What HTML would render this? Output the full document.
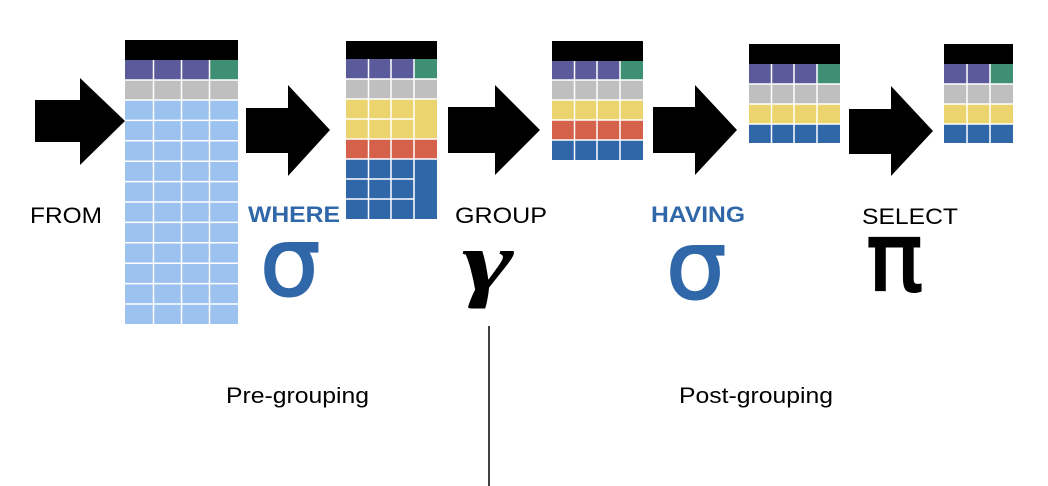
<!DOCTYPE html>
<html><head><meta charset="utf-8"><style>
html,body{margin:0;padding:0;background:#fff;width:1048px;height:486px;overflow:hidden}
svg{display:block}
text{font-family:"Liberation Sans",sans-serif}
.g{font-family:"DejaVu Sans",sans-serif}
</style></head><body>
<svg width="1048" height="486" viewBox="0 0 1048 486" xmlns="http://www.w3.org/2000/svg">
<g fill="#000">
<polygon points="35,100 80,100 80,78 125,121 80,165 80,142 35,142"/>
<polygon points="246,108 288,108 288,85 330,130 288,176 288,153 246,153"/>
<polygon points="448,107 495,107 495,85 540,130 495,175 495,153 448,153"/>
<polygon points="653,107 695,107 695,85 737,130 695,175 695,153 653,153"/>
<polygon points="849,109 891,109 891,86 933,131 891,176 891,154 849,154"/>
</g>

<rect x="125" y="40" width="113" height="20" fill="#000"/>
<rect x="125" y="60" width="85" height="20" fill="#5b5b9b"/>
<rect x="210" y="60" width="28" height="20" fill="#3f8f74"/>
<rect x="125" y="80" width="113" height="20" fill="#bfbfbf"/>
<rect x="125" y="100" width="113" height="224" fill="#9cc3f0"/>
<g stroke="#fff" stroke-width="1.5">
<line x1="153.5" y1="60" x2="153.5" y2="324"/><line x1="181.5" y1="60" x2="181.5" y2="324"/><line x1="209.5" y1="60" x2="209.5" y2="324"/>
<line x1="125" y1="80" x2="238" y2="80"/><line x1="125" y1="100" x2="238" y2="100"/>
<line x1="125" y1="120.4" x2="238" y2="120.4"/><line x1="125" y1="140.8" x2="238" y2="140.8"/>
<line x1="125" y1="161.2" x2="238" y2="161.2"/><line x1="125" y1="181.6" x2="238" y2="181.6"/>
<line x1="125" y1="202" x2="238" y2="202"/><line x1="125" y1="222.4" x2="238" y2="222.4"/>
<line x1="125" y1="242.8" x2="238" y2="242.8"/><line x1="125" y1="263.2" x2="238" y2="263.2"/>
<line x1="125" y1="283.6" x2="238" y2="283.6"/><line x1="125" y1="304" x2="238" y2="304"/>
</g>

<rect x="346" y="41" width="91" height="18" fill="#000"/>
<rect x="346" y="59" width="68" height="20" fill="#5b5b9b"/>
<rect x="414" y="59" width="23" height="20" fill="#3f8f74"/>
<rect x="346" y="79" width="91" height="20" fill="#bfbfbf"/>
<rect x="346" y="99" width="91" height="40" fill="#ebd36e"/>
<rect x="346" y="139" width="91" height="20" fill="#d6614a"/>
<rect x="346" y="159" width="91" height="60" fill="#3067a8"/>
<g stroke="#fff" stroke-width="1.5">
<line x1="368.5" y1="59" x2="368.5" y2="219"/><line x1="391" y1="59" x2="391" y2="219"/><line x1="414" y1="59" x2="414" y2="219"/>
<line x1="346" y1="79" x2="437" y2="79"/><line x1="346" y1="99" x2="437" y2="99"/>
<line x1="346" y1="119" x2="414" y2="119"/>
<line x1="346" y1="139" x2="437" y2="139"/><line x1="346" y1="159" x2="437" y2="159"/>
<line x1="346" y1="179" x2="414" y2="179"/><line x1="346" y1="199" x2="414" y2="199"/>
</g>

<rect x="552" y="41" width="91" height="20" fill="#000"/>
<rect x="552" y="61" width="68" height="19" fill="#5b5b9b"/>
<rect x="620" y="61" width="23" height="19" fill="#3f8f74"/>
<rect x="552" y="80" width="91" height="20" fill="#bfbfbf"/>
<rect x="552" y="100" width="91" height="20" fill="#ebd36e"/>
<rect x="552" y="120" width="91" height="20" fill="#d6614a"/>
<rect x="552" y="140" width="91" height="20" fill="#3067a8"/>
<g stroke="#fff" stroke-width="1.5">
<line x1="574.5" y1="61" x2="574.5" y2="160"/><line x1="597" y1="61" x2="597" y2="160"/><line x1="620" y1="61" x2="620" y2="160"/>
<line x1="552" y1="80" x2="643" y2="80"/><line x1="552" y1="100" x2="643" y2="100"/>
<line x1="552" y1="120" x2="643" y2="120"/><line x1="552" y1="140" x2="643" y2="140"/>
</g>

<rect x="749" y="44" width="91" height="20" fill="#000"/>
<rect x="749" y="64" width="68" height="20" fill="#5b5b9b"/>
<rect x="817" y="64" width="23" height="20" fill="#3f8f74"/>
<rect x="749" y="84" width="91" height="20" fill="#bfbfbf"/>
<rect x="749" y="104" width="91" height="20" fill="#ebd36e"/>
<rect x="749" y="124" width="91" height="19" fill="#3067a8"/>
<g stroke="#fff" stroke-width="1.5">
<line x1="771.5" y1="64" x2="771.5" y2="143"/><line x1="794" y1="64" x2="794" y2="143"/><line x1="817" y1="64" x2="817" y2="143"/>
<line x1="749" y1="84" x2="840" y2="84"/><line x1="749" y1="104" x2="840" y2="104"/><line x1="749" y1="124" x2="840" y2="124"/>
</g>

<rect x="944" y="44" width="69" height="20" fill="#000"/>
<rect x="944" y="64" width="46" height="20" fill="#5b5b9b"/>
<rect x="990" y="64" width="23" height="20" fill="#3f8f74"/>
<rect x="944" y="84" width="69" height="20" fill="#bfbfbf"/>
<rect x="944" y="104" width="69" height="20" fill="#ebd36e"/>
<rect x="944" y="124" width="69" height="19" fill="#3067a8"/>
<g stroke="#fff" stroke-width="1.5">
<line x1="967" y1="64" x2="967" y2="143"/><line x1="990" y1="64" x2="990" y2="143"/>
<line x1="944" y1="84" x2="1013" y2="84"/><line x1="944" y1="104" x2="1013" y2="104"/><line x1="944" y1="124" x2="1013" y2="124"/>
</g>

<text x="30" y="223" font-size="22" fill="#000" textLength="72" lengthAdjust="spacingAndGlyphs">FROM</text>
<text x="248" y="222" font-size="22" font-weight="bold" fill="#3067a8" textLength="92" lengthAdjust="spacingAndGlyphs">WHERE</text>
<text class="g" x="260" y="295" font-size="95" fill="#3067a8" stroke="#3067a8" stroke-width="2">σ</text>
<text x="455" y="223" font-size="22" fill="#000" textLength="92" lengthAdjust="spacingAndGlyphs">GROUP</text>
<text x="0" y="0" font-size="86" font-weight="bold" font-style="italic" fill="#000" style="font-family:'Liberation Serif',serif" transform="translate(462,290) scale(1.45,1)">γ</text>
<text x="651" y="222" font-size="22" font-weight="bold" fill="#3067a8" textLength="94" lengthAdjust="spacingAndGlyphs">HAVING</text>
<text class="g" x="666" y="298" font-size="95" fill="#3067a8" stroke="#3067a8" stroke-width="2">σ</text>
<text x="862" y="224" font-size="22" fill="#000" textLength="96" lengthAdjust="spacingAndGlyphs">SELECT</text>
<text class="g" x="866" y="290" font-size="95" fill="#000" stroke="#000" stroke-width="2">π</text>
<text x="226" y="403" font-size="22" fill="#000" textLength="143" lengthAdjust="spacingAndGlyphs">Pre-grouping</text>
<text x="679" y="403" font-size="22" fill="#000" textLength="154" lengthAdjust="spacingAndGlyphs">Post-grouping</text>
<line x1="489" y1="326" x2="489" y2="486" stroke="#000" stroke-width="1.5"/>
</svg>
</body></html>
